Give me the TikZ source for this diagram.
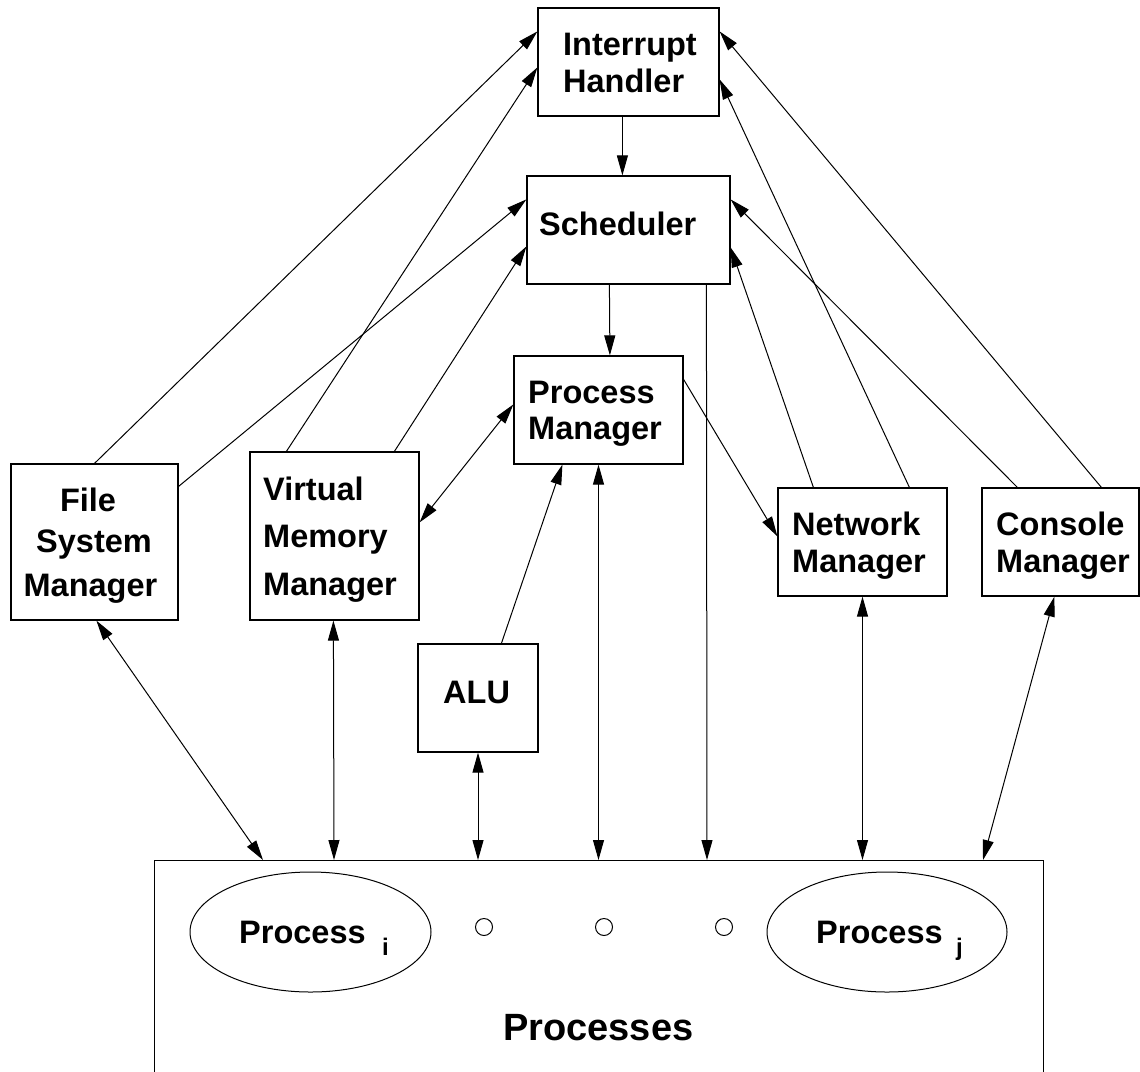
\documentclass[tikz,border=0pt]{standalone}
\usepackage{fontspec}
\setmainfont{Liberation Sans}
\usetikzlibrary{arrows.meta,shapes.geometric}
\begin{document}
\begin{tikzpicture}[x=1pt,y=-1pt,
 box/.style={draw,line width=1.2pt,rectangle,inner sep=0pt},
 lbl/.style={inner sep=0pt,font=\fontsize{32.5}{36}\selectfont\bfseries},
 sub/.style={inner sep=0pt,font=\fontsize{24}{26}\selectfont\bfseries},
 con/.style={line width=1pt,-{Triangle[length=20pt,width=11pt]}},
 bi/.style={line width=1pt,{Triangle[length=20pt,width=11pt]}-{Triangle[length=20pt,width=11pt]}},
 plain/.style={line width=1pt}]
\useasboundingbox (0,0) rectangle (1140,1071);
% boxes
\node[box,minimum width=181pt,minimum height=108pt] (ih) at (628.5,62) {};
\node[box,minimum width=203pt,minimum height=108pt] (sched) at (628.5,230) {};
\node[box,minimum width=169pt,minimum height=108pt] (pm) at (598.5,410) {};
\node[box,minimum width=167pt,minimum height=156pt] (fsm) at (94.5,542) {};
\node[box,minimum width=169pt,minimum height=168pt] (vmm) at (334.5,536) {};
\node[box,minimum width=120pt,minimum height=108pt] (alu) at (478,698) {};
\node[box,minimum width=169pt,minimum height=108pt] (nm) at (862.5,542) {};
\node[box,minimum width=157pt,minimum height=108pt] (cm) at (1060.5,542) {};
\node[box,minimum width=889pt,minimum height=220pt,anchor=north west] (proc) at (154,860) {};
% labels
\node[lbl,anchor=base west] (ih1) at (563,55) {Interrupt};
\node[lbl,anchor=base west] (ih2) at (563,92) {Handler};
\node[lbl,anchor=base west] (sc1) at (539,235) {Scheduler};
\node[lbl,anchor=base west] (pm1) at (528,403) {Process};
\node[lbl,anchor=base west] (pm2) at (528,439) {Manager};
\node[lbl,anchor=base] (fs1) at (88,511) {File};
\node[lbl,anchor=base] (fs2) at (94,552) {System};
\node[lbl,anchor=base] (fs3) at (90.5,596) {Manager};
\node[lbl,anchor=base west] (vm1) at (263,500) {Virtual};
\node[lbl,anchor=base west] (vm2) at (263,547) {Memory};
\node[lbl,anchor=base west] (vm3) at (263,595) {Manager};
\node[lbl,anchor=base west] (al1) at (443,703) {ALU};
\node[lbl,anchor=base west] (nm1) at (792,535) {Network};
\node[lbl,anchor=base west] (nm2) at (792,572) {Manager};
\node[lbl,anchor=base west] (cm1) at (996,535) {Console};
\node[lbl,anchor=base west] (cm2) at (996,572) {Manager};
% processes
\node[draw,ellipse,line width=1pt,minimum width=241pt,minimum height=120pt,inner sep=0pt] (pi) at (310.5,932) {};
\node[draw,ellipse,line width=1pt,minimum width=240pt,minimum height=120pt,inner sep=0pt] (pj) at (887,932) {};
\node[lbl,anchor=base west] (pit) at (239,943) {Process};
\node[sub,anchor=base west] (pis) at (382,955) {i};
\node[lbl,anchor=base west] (pjt) at (816,943) {Process};
\node[sub,anchor=base west] (pjs) at (956,955) {j};
\node[draw,circle,line width=1pt,minimum size=17pt,inner sep=0pt] (d1) at (484,927) {};
\node[draw,circle,line width=1pt,minimum size=17pt,inner sep=0pt] (d2) at (604,927) {};
\node[draw,circle,line width=1pt,minimum size=17pt,inner sep=0pt] (d3) at (724,927) {};
\node[inner sep=0pt,font=\fontsize{38}{40}\selectfont\bfseries,anchor=base west] (pst) at (503,1040) {Processes};
% connectors
\draw[con] ([xshift=85pt]ih.south west) -- ([xshift=96pt]sched.north west);
\draw[con] (fsm.north) -- ([yshift=-24pt]ih.north west);
\draw[con] ([xshift=37pt]vmm.north west) -- ([yshift=-60pt]ih.north west);
\draw[con] ([yshift=-23pt]fsm.north east) -- ([yshift=-24pt]sched.north west);
\draw[con] ([xshift=145pt]vmm.north west) -- ([yshift=-71pt]sched.north west);
\draw[con] ([xshift=132pt]nm.north west) -- ([yshift=-72pt]ih.north east);
\draw[con] ([xshift=120pt]cm.north west) -- ([yshift=-24pt]ih.north east);
\draw[con] ([xshift=36pt]cm.north west) -- ([yshift=-24pt]sched.north east);
\draw[con] ([xshift=36pt]nm.north west) -- ([yshift=-72pt]sched.north east);
\draw[con] ([xshift=83pt]sched.south west) -- ([xshift=96.5pt]pm.north west);
\draw[bi] ([yshift=-49pt]pm.north west) -- ([yshift=-71pt]vmm.north east);
\draw[con] ([xshift=84pt]alu.north west) -- ([xshift=49pt]pm.south west);
\draw[bi] (pm.south) -- ([xshift=444.5pt]proc.north west);
\draw[con] ([xshift=180pt]sched.south west) -- ([xshift=553pt]proc.north west);
\draw[con] ([yshift=-24pt]pm.north east) -- ([yshift=-49pt]nm.north west);
\draw[bi] ([xshift=86pt]fsm.south west) -- ([xshift=109pt]proc.north west);
\draw[bi] ([xshift=84pt]vmm.south west) -- ([xshift=180pt]proc.north west);
\draw[bi] (alu.south) -- ([xshift=324pt]proc.north west);
\draw[bi] (nm.south) -- ([xshift=708.5pt]proc.north west);
\draw[bi] ([xshift=73pt]cm.south west) -- ([xshift=829pt]proc.north west);
\end{tikzpicture}
\end{document}
